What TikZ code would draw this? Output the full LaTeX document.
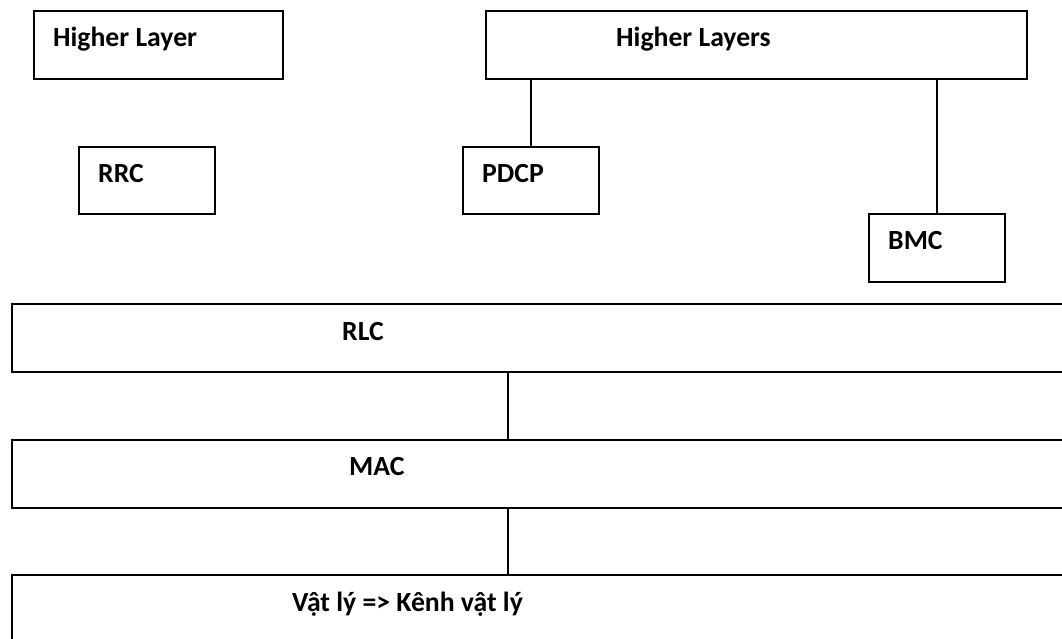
\documentclass[tikz,border=0pt]{standalone}
\usepackage{fontspec}
\setmainfont{Carlito}
\usetikzlibrary{positioning}

\begin{document}
\begin{tikzpicture}[x=1pt,y=-1pt,
  layer/.style={draw, line width=1.8pt, inner sep=0pt, anchor=north west},
  lbl/.style={font=\fontsize{27.7}{31}\selectfont\bfseries, inner sep=0pt, anchor=base west},
  conn/.style={line width=1.8pt}]
\useasboundingbox (0,0) rectangle (1062,638);
\clip (0,0) rectangle (1062,638);

% upper boxes
\node[layer, minimum width=249pt, minimum height=68pt] (hl) at (33,10) {};
\node[layer, minimum width=136pt, minimum height=67pt] (rrc) at (78,146) {};
\node[layer, minimum width=541pt, minimum height=68pt] (hls) at (485,10) {};
\node[layer, minimum width=136pt, minimum height=67pt] (pdcp) at (462,146) {};
\node[layer, minimum width=136pt, minimum height=68pt] (bmc) at (868,213) {};

% wide layers, cut at the right edge
\node[layer, minimum width=1080pt, minimum height=68pt] (rlc) at (11,303) {};
\node[layer, minimum width=1080pt, minimum height=68pt] (mac) at (11,439) {};
\node[layer, minimum width=1080pt, minimum height=100pt] (phy) at (11,574) {};

% labels
\node[lbl] (hl-t) at (53,46) {Higher Layer};
\node[lbl] (hls-t) at (616,46) {Higher Layers};
\node[lbl] (rrc-t) at (98,182) {RRC};
\node[lbl] (pdcp-t) at (482,182) {PDCP};
\node[lbl] (bmc-t) at (888,249) {BMC};
\node[lbl] (rlc-t) at (342,340) {RLC};
\node[lbl] (mac-t) at (349,475) {MAC};
\node[lbl] (phy-t) at (292,611) {Vật lý => Kênh vật lý};

% connectors
\draw[conn] (pdcp.north) -- (pdcp.north |- hls.south);
\draw[conn] (bmc.north) -- (bmc.north |- hls.south);
\draw[conn] ([xshift=497pt]rlc.south west) -- ([xshift=497pt]mac.north west);
\draw[conn] ([xshift=497pt]mac.south west) -- ([xshift=497pt]phy.north west);
\end{tikzpicture}
\end{document}
